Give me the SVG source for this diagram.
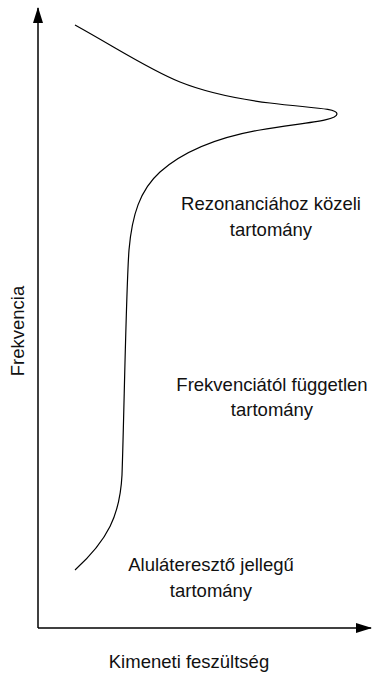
<svg xmlns="http://www.w3.org/2000/svg" width="372" height="675" viewBox="0 0 372 675">
<style>
  .ax { stroke: #000; stroke-width: 1.5; fill: none; }
  .curve { stroke: #000; stroke-width: 1.2; fill: none; }
  .lbl { font-family: "Liberation Sans", Arial, sans-serif; font-size: 18.5px; fill: #111; text-anchor: middle; }
</style>
<defs>
  <marker id="arr" markerWidth="16" markerHeight="10" refX="15" refY="5" orient="auto" markerUnits="userSpaceOnUse">
    <path d="M0,0 L16,5 L0,10 Z" fill="#000"/>
  </marker>
</defs>
<rect width="372" height="675" fill="#fff"/>
<g id="axes">
  <line class="ax" x1="38" y1="628" x2="38" y2="8" marker-end="url(#arr)"/>
  <line class="ax" x1="38" y1="628" x2="371" y2="628" marker-end="url(#arr)"/>
</g>
<g id="curve">
  <path class="curve" d="M75,25 C120,50 150,70 180,82 C205,92 230,98 270,103 C310,108 337,108 337,114 C337,121 300,123 260,130 C220,137 185,150 160,172 C140,190 132,215 129,250 C126,290 124,420 122,475 C120,515 108,540 75,570"/>
</g>
<g id="label-resonance">
  <text class="lbl" x="271" y="210">Rezonanciához közeli</text>
  <text class="lbl" x="271" y="236">tartomány</text>
</g>
<g id="label-independent">
  <text class="lbl" x="272" y="391">Frekvenciától független</text>
  <text class="lbl" x="272" y="416">tartomány</text>
</g>
<g id="label-lowpass">
  <text class="lbl" x="211" y="571">Aluláteresztő jellegű</text>
  <text class="lbl" x="211" y="597">tartomány</text>
</g>
<g id="label-yaxis">
  <text class="lbl" transform="translate(24,331) rotate(-90)">Frekvencia</text>
</g>
<g id="label-xaxis">
  <text class="lbl" x="189" y="668">Kimeneti feszültség</text>
</g>
</svg>
